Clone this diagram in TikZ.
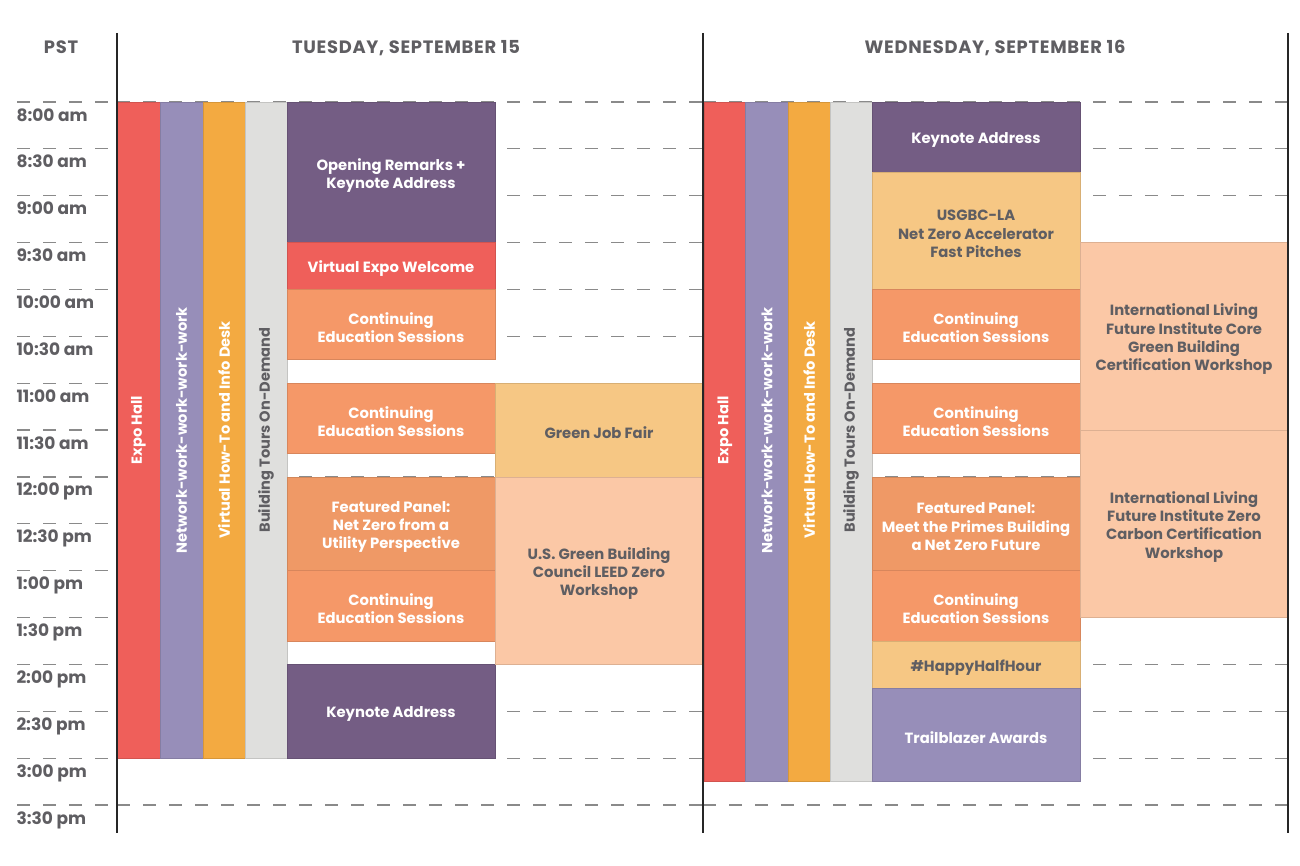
\documentclass[tikz,border=0pt]{standalone}
\usepackage{fontspec}
\setmainfont{Poppins}[BoldFont={Poppins Bold}]
\newfontfamily\headfont{Poppins Bold}[LetterSpace=4]
\usepackage{tikz}

\definecolor{expored}{HTML}{EF5F5A}
\definecolor{netpurple}{HTML}{978EB9}
\definecolor{deskorange}{HTML}{F3AA41}
\definecolor{tourgray}{HTML}{DFDFDD}
\definecolor{keypurple}{HTML}{745D84}
\definecolor{ceorange}{HTML}{F59868}
\definecolor{panelorange}{HTML}{EF9966}
\definecolor{lightorange}{HTML}{F6C784}
\definecolor{peach}{HTML}{FBC8A6}
\definecolor{textgray}{HTML}{5F5E62}
\definecolor{linegray}{HTML}{8A8A8A}

\tikzset{
  session/.style={fill=#1, draw=#1!88!black, line width=0.7pt},
  wtxt/.style={text=white, align=center, yshift=-3pt, font=\bfseries\fontsize{14.8}{18.3}\selectfont},
  gtxt/.style={text=textgray, align=center, yshift=-3pt, font=\bfseries\fontsize{14.8}{18.3}\selectfont},
  vtxt/.style={rotate=90, font=\bfseries\fontsize{14.6}{18}\selectfont},
  halfhour/.style={linegray, line width=1.2pt, dash pattern=on 13pt off 13pt},
  timelbl/.style={anchor=base west, text=textgray, font=\bfseries\fontsize{17}{20}\selectfont},
  dayhead/.style={anchor=base, text=textgray, font=\headfont\fontsize{17.9}{20}\selectfont}
}

\begin{document}
\begin{tikzpicture}[x=1pt, y=-93.74pt]
\useasboundingbox (0,-1.088) rectangle (1300,8.150);

% half hour lines and times
\foreach \t/\lbl in {0/8:00 am, 0.5/8:30 am, 1/9:00 am, 1.5/9:30 am, 2/10:00 am,
    2.5/10:30 am, 3/11:00 am, 3.5/11:30 am, 4/12:00 pm, 4.5/12:30 pm, 5/1:00 pm,
    5.5/1:30 pm, 6/2:00 pm, 6.5/2:30 pm, 7/3:00 pm, 7.5/3:30 pm} {
  \draw[halfhour] (17,\t) -- (108,\t);
  \draw[halfhour] (117,\t) -- (703,\t);
  \draw[halfhour] (703,\t) -- (1288,\t);
  \node[timelbl] at (13,\t+0.203) {\lbl};
}

% headers
\node[dayhead] (pst) at (61,-0.512) {PST};
\node[dayhead] (tue) at (406,-0.512) {TUESDAY, SEPTEMBER 15};
\node[dayhead] (wed) at (995,-0.512) {WEDNESDAY, SEPTEMBER 16};

% tuesday all-day columns
\draw[session=expored] (117,0) rectangle (160,7);
\draw[session=netpurple] (160,0) rectangle (203,7);
\draw[session=deskorange] (203,0) rectangle (245,7);
\draw[session=tourgray] (245,0) rectangle (287,7);
\node[vtxt, text=white] (tueexpo) at (138.5,3.5) {Expo Hall};
\node[vtxt, text=white] (tuenet) at (181.5,3.5) {Network-work-work-work-work};
\node[vtxt, text=white] (tuedesk) at (224,3.5) {Virtual How-To and Info Desk};
\node[vtxt, text=textgray] (tuetour) at (266,3.5) {Building Tours On-Demand};

% tuesday sessions
\draw[session=keypurple] (287,0) rectangle (495,1.5);
\node[wtxt] (tueopen) at (391,0.75) {Opening Remarks +\\Keynote Address};
\draw[session=expored] (287,1.5) rectangle (495,2);
\node[wtxt] (tuewelcome) at (391,1.75) {Virtual Expo Welcome};
\draw[session=ceorange] (287,2) rectangle (495,2.75);
\node[wtxt] (tuece1) at (391,2.375) {Continuing\\Education Sessions};
\draw[session=ceorange] (287,3) rectangle (495,3.75);
\node[wtxt] (tuece2) at (391,3.375) {Continuing\\Education Sessions};
\draw[session=panelorange] (287,4) rectangle (495,5);
\node[wtxt] (tuepanel) at (391,4.5) {Featured Panel:\\Net Zero from a\\Utility Perspective};
\draw[session=ceorange] (287,5) rectangle (495,5.75);
\node[wtxt] (tuece3) at (391,5.375) {Continuing\\Education Sessions};
\draw[session=keypurple] (287,6) rectangle (495,7);
\node[wtxt] (tuekey) at (391,6.5) {Keynote Address};
\draw[session=lightorange] (495,3) rectangle (703,4);
\node[gtxt] (tuejob) at (599,3.5) {Green Job Fair};
\draw[session=peach] (495,4) rectangle (703,6);
\node[gtxt] (tueleed) at (599,5) {U.S. Green Building\\Council LEED Zero\\Workshop};

% wednesday all-day columns
\draw[session=expored] (704,0) rectangle (745.5,7.25);
\draw[session=netpurple] (745.5,0) rectangle (788,7.25);
\draw[session=deskorange] (788,0) rectangle (830,7.25);
\draw[session=tourgray] (830,0) rectangle (872,7.25);
\node[vtxt, text=white] (wedexpo) at (725,3.5) {Expo Hall};
\node[vtxt, text=white] (wednet) at (767,3.5) {Network-work-work-work-work};
\node[vtxt, text=white] (weddesk) at (809,3.5) {Virtual How-To and Info Desk};
\node[vtxt, text=textgray] (wedtour) at (851,3.5) {Building Tours On-Demand};

% wednesday sessions
\draw[session=keypurple] (872,0) rectangle (1080,0.75);
\node[wtxt] (wedkey) at (976,0.375) {Keynote Address};
\draw[session=lightorange] (872,0.75) rectangle (1080,2);
\node[gtxt] (wedpitch) at (976,1.375) {USGBC-LA\\Net Zero Accelerator\\Fast Pitches};
\draw[session=ceorange] (872,2) rectangle (1080,2.75);
\node[wtxt] (wedce1) at (976,2.375) {Continuing\\Education Sessions};
\draw[session=ceorange] (872,3) rectangle (1080,3.75);
\node[wtxt] (wedce2) at (976,3.375) {Continuing\\Education Sessions};
\draw[session=panelorange] (872,4) rectangle (1080,5);
\node[wtxt] (wedpanel) at (976,4.5) {Featured Panel:\\Meet the Primes Building\\a Net Zero Future};
\draw[session=ceorange] (872,5) rectangle (1080,5.75);
\node[wtxt] (wedce3) at (976,5.375) {Continuing\\Education Sessions};
\draw[session=lightorange] (872,5.75) rectangle (1080,6.25);
\node[gtxt] (wedhappy) at (976,6) {\#HappyHalfHour};
\draw[session=netpurple] (872,6.25) rectangle (1080,7.25);
\node[wtxt] (wedawards) at (976,6.75) {Trailblazer Awards};
\draw[session=peach] (1080,1.5) rectangle (1288,3.5);
\node[gtxt] (wedcore) at (1184,2.5) {International Living\\Future Institute Core\\Green Building\\Certification Workshop};
\draw[session=peach] (1080,3.5) rectangle (1288,5.5);
\node[gtxt] (wedcarbon) at (1184,4.5) {International Living\\Future Institute Zero\\Carbon Certification\\Workshop};

% day dividers
\draw[black!85, line width=1.2pt] (117,-0.736) -- (117,7.798);
\draw[black!85, line width=1.2pt] (703,-0.736) -- (703,7.798);
\draw[black!85, line width=1.2pt] (1288,-0.736) -- (1288,7.798);
\end{tikzpicture}
\end{document}
